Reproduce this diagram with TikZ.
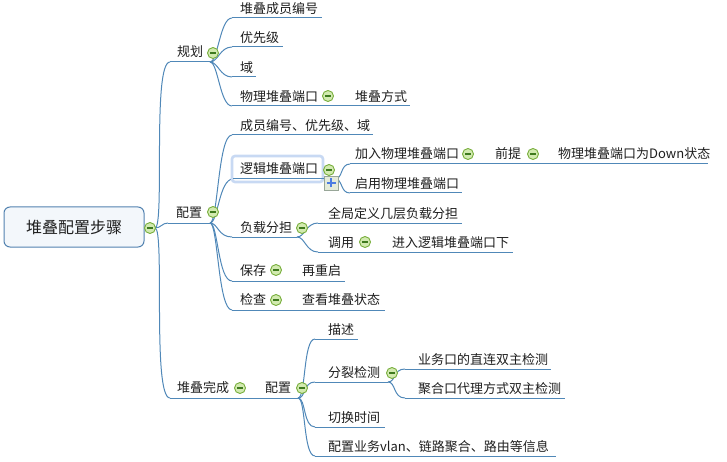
\documentclass[tikz,border=0pt]{standalone}
\usepackage{fontspec}
\newfontfamily\cjk{Noto Sans CJK SC}
\definecolor{lncol}{HTML}{5088B8}
\definecolor{txtcol}{HTML}{1E1E1E}
\definecolor{rootdraw}{HTML}{5282B0}
\definecolor{rootfill}{HTML}{F3F7FB}
\definecolor{icdraw}{HTML}{78AE3C}
\definecolor{icfill}{HTML}{D2EAB0}
\definecolor{icbar}{HTML}{3E7A1E}
\definecolor{selcol}{HTML}{C8D9F3}
\definecolor{plusdraw}{HTML}{98A698}
\definecolor{plusfill}{HTML}{E4EBDA}
\definecolor{plusblue}{HTML}{4C7CE2}
\begin{document}
\begin{tikzpicture}[x=1pt,y=-1pt,
  ln/.style={draw=lncol, line width=1pt},
  txt/.style={anchor=west, inner sep=0pt, font=\cjk\fontsize{13}{15}\selectfont, text=txtcol, text height=10.5pt, text depth=2pt},
  rootbox/.style={draw=rootdraw, fill=rootfill, line width=1pt, rounded corners=6pt, minimum width=140pt, minimum height=40pt, inner sep=0pt, font=\cjk\fontsize{16}{18}\selectfont, text=txtcol},
  colicon/.style={circle, draw=icdraw, fill=icfill, line width=0.9pt, minimum size=11pt, inner sep=0pt,
    path picture={\draw[icbar, line width=1.2pt] ([xshift=-3pt]path picture bounding box.center) -- ([xshift=3pt]path picture bounding box.center);}},
  plusicon/.style={rectangle, draw=plusdraw, fill=plusfill, line width=0.8pt, minimum size=14pt, inner sep=0pt,
    path picture={\draw[plusblue, line width=2.6pt] ([xshift=-4.5pt]path picture bounding box.center) -- ([xshift=4.5pt]path picture bounding box.center);
                  \draw[plusblue, line width=2.6pt] ([yshift=-4.5pt]path picture bounding box.center) -- ([yshift=4.5pt]path picture bounding box.center);}}
]
\useasboundingbox (0,0) rectangle (727,462);

% ---------- coordinates ----------
\coordinate (r0) at (155,228);
% plan
\coordinate (gh-l) at (170,62);  \coordinate (gh-r) at (210,62);
\coordinate (c11-l) at (232,18);  \coordinate (c11-r) at (322,18);
\coordinate (c12-l) at (232,47);  \coordinate (c12-r) at (283,47);
\coordinate (c13-l) at (232,77);  \coordinate (c13-r) at (256,77);
\coordinate (c14-l) at (232,106); \coordinate (c14-r) at (410,106);
% config
\coordinate (pz-l) at (168,223); \coordinate (pz-r) at (210,223);
\coordinate (c21-l) at (232,135); \coordinate (c21-r) at (373,135);
\coordinate (c22-l) at (233,179); \coordinate (c22-r) at (335,179);
\coordinate (c23-l) at (232,237); \coordinate (c23-r) at (297,237);
\coordinate (c24-l) at (232,281); \coordinate (c24-r) at (345,281);
\coordinate (c25-l) at (232,310); \coordinate (c25-r) at (385,310);
\coordinate (c221-l) at (350,164); \coordinate (c221-r) at (708,164);
\coordinate (c222-l) at (350,193); \coordinate (c222-r) at (462,193);
\coordinate (c231-l) at (318,223); \coordinate (c231-r) at (462,223);
\coordinate (c232-l) at (318,252); \coordinate (c232-r) at (513,252);
% done
\coordinate (wc-l) at (170,398); \coordinate (wc-r) at (298,398);
\coordinate (c31-l) at (315,339); \coordinate (c31-r) at (358,339);
\coordinate (c32-l) at (315,382); \coordinate (c32-r) at (388,382);
\coordinate (c33-l) at (315,427); \coordinate (c33-r) at (385,427);
\coordinate (c34-l) at (315,456); \coordinate (c34-r) at (556,456);
\coordinate (c321-l) at (405,369); \coordinate (c321-r) at (551,369);
\coordinate (c322-l) at (405,398); \coordinate (c322-r) at (565,398);

% ---------- connectors ----------
\draw[ln] (r0) .. controls +(10,0) and +(-18,0) .. (gh-l);
\draw[ln] (r0) .. controls +(6,0) and +(-6,0) .. (pz-l);
\draw[ln] (r0) .. controls +(10,0) and +(-18,0) .. (wc-l);
\draw[ln] (gh-l) -- (gh-r);
\draw[ln] (pz-l) -- (pz-r);
\draw[ln] (wc-l) -- (wc-r);

\foreach \c in {c11,c12,c13,c14}{
  \draw[ln] (gh-r) .. controls +(8,0) and +(-12,0) .. (\c-l);
  \draw[ln] (\c-l) -- (\c-r);
}
\foreach \c in {c21,c22,c23,c24,c25}{
  \draw[ln] (pz-r) .. controls +(8,0) and +(-14,0) .. (\c-l);
}
\foreach \c in {c231,c232}{
  \draw[ln] (c23-r) .. controls +(8,0) and +(-12,0) .. (\c-l);
  \draw[ln] (\c-l) -- (\c-r);
}
\foreach \c in {c31,c32,c33,c34}{
  \draw[ln] (wc-r) .. controls +(8,0) and +(-12,0) .. (\c-l);
  \draw[ln] (\c-l) -- (\c-r);
}
\foreach \c in {c321,c322}{
  \draw[ln] (c32-r) .. controls +(8,0) and +(-12,0) .. (\c-l);
  \draw[ln] (\c-l) -- (\c-r);
}
\foreach \c in {c221,c222}{
  \draw[ln] (c22-r) .. controls +(8,0) and +(-10,0) .. (\c-l);
  \draw[ln] (\c-l) -- (\c-r);
}
\foreach \c in {c21,c23,c24,c25}{
  \draw[ln] (\c-l) -- (\c-r);
}
% selected topic box
\path[draw=selcol, line width=2.6pt, rounded corners=3pt, fill=white] (232,156) rectangle (323,182);
\draw[ln] (c22-l) -- (c22-r);

% ---------- nodes ----------
\node[rootbox] (root) at (74,227) {堆叠配置步骤};
\node[colicon] (i-root) at (150,228) {};

\node[txt] (t-gh) at (177,52.5) {规划};
\node[colicon] (i-gh) at (213,53) {};
\node[txt] (t11) at (240,9) {堆叠成员编号};
\node[txt] (t12) at (240,38) {优先级};
\node[txt] (t13) at (240,68) {域};
\node[txt] (t14) at (240,97) {物理堆叠端口};
\node[colicon] (i14) at (328,96) {};
\node[txt] (t141) at (355,97) {堆叠方式};

\node[txt] (t-pz) at (176,213) {配置};
\node[colicon] (i-pz) at (213,212) {};
\node[txt] (t21) at (240,126) {成员编号、优先级、域};
\node[txt] (t22) at (240,169) {逻辑堆叠端口};
\node[colicon] (i22) at (329,170) {};
\node[plusicon] (p22) at (331,183) {};
\node[txt] (t221) at (355,154.5) {加入物理堆叠端口};
\node[colicon] (i221) at (468,154) {};
\node[txt] (t2211) at (495,154.5) {前提};
\node[colicon] (i2211) at (533,154) {};
\node[txt] (t22111) at (558,154.5) {物理堆叠端口为Down状态};
\node[txt] (t222) at (355,184) {启用物理堆叠端口};
\node[txt] (t23) at (240,228) {负载分担};
\node[colicon] (i23) at (302,228) {};
\node[txt] (t231) at (328,214) {全局定义几层负载分担};
\node[txt] (t232) at (328,243) {调用};
\node[colicon] (i232) at (365,242) {};
\node[txt] (t2321) at (392,243) {进入逻辑堆叠端口下};
\node[txt] (t24) at (240,271) {保存};
\node[colicon] (i24) at (276,270) {};
\node[txt] (t241) at (302,271) {再重启};
\node[txt] (t25) at (240,300) {检查};
\node[colicon] (i25) at (276,300) {};
\node[txt] (t251) at (302,300) {查看堆叠状态};

\node[txt] (t-wc) at (177,388) {堆叠完成};
\node[colicon] (i-wc) at (240,388) {};
\node[txt] (t3) at (265,388) {配置};
\node[colicon] (i3) at (302,388) {};
\node[txt] (t31) at (328,330) {描述};
\node[txt] (t32) at (328,373) {分裂检测};
\node[colicon] (i32) at (392,373) {};
\node[txt] (t321) at (418,360) {业务口的直连双主检测};
\node[txt] (t322) at (418,389) {聚合口代理方式双主检测};
\node[txt] (t33) at (328,418) {切换时间};
\node[txt] (t34) at (328,447) {配置业务vlan、链路聚合、路由等信息};
\end{tikzpicture}
\end{document}
